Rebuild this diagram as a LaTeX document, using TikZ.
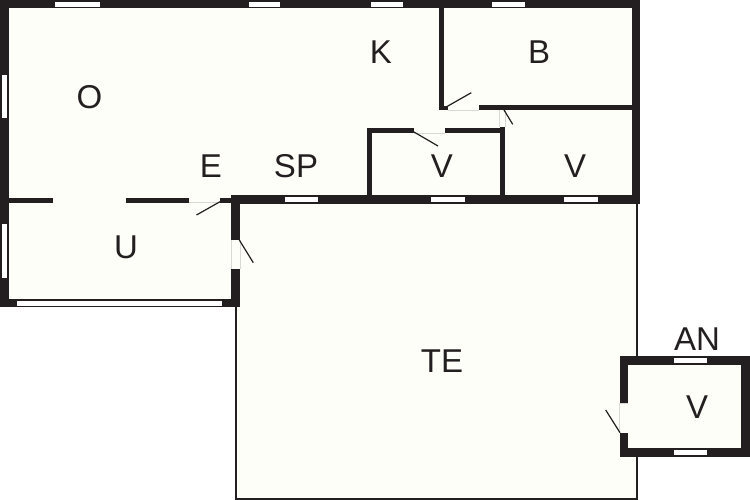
\documentclass[tikz,border=0pt]{standalone}
\usepackage{fontspec}
\setmainfont{Liberation Sans}
\definecolor{wallc}{HTML}{231F20}
\definecolor{floorc}{HTML}{FEFEF8}
\definecolor{sillc}{HTML}{D8D8D4}
\newcommand{\wall}[4]{\fill[wallc] (#1,#2) rectangle (#3,#4);}
\newcommand{\win}[4]{\fill[white] (#1,#2) rectangle (#3,#4);}
\tikzset{
  lab/.style={font=\fontsize{33}{33}\selectfont, text=wallc, inner sep=0pt, text height=23pt, text depth=0pt, anchor=center},
  leaf/.style={draw=wallc, line width=1.2pt},
  sill/.style={draw=sillc, line width=0.7pt}
}
\begin{document}
\begin{tikzpicture}[x=1pt,y=-1pt]
\useasboundingbox (0,0) rectangle (750,500);
\fill[white] (0,0) rectangle (750,500);
% floors
\fill[floorc] (0,0) rectangle (640,204);
\fill[floorc] (0,204) rectangle (240,307);
\fill[floorc] (235,204) rectangle (637,499);
\fill[floorc] (620,356) rectangle (750,457);
% terrace lines
\wall{235}{300}{237}{499.5}
\wall{235}{497.5}{637.5}{499.5}
\wall{635.5}{204}{637.5}{357}
\wall{635.5}{456}{637.5}{499.5}
% outer walls, main
\wall{0}{0}{640}{8.5}
\wall{0}{0}{9}{307}
\wall{632}{0}{640}{204}
\wall{231}{195.5}{640}{204}
\wall{231}{195.5}{240}{240}
\wall{231}{269}{240}{307}
\wall{0}{299}{240}{307}
% interior walls
\wall{9}{197.5}{53}{202.5}
\wall{126}{197.5}{189}{202.5}
\wall{220}{197.5}{231}{202.5}
\wall{439.3}{8}{444.3}{110.5}
\wall{439.3}{106}{448}{110.5}
\wall{478.5}{105.5}{632}{110.5}
\wall{366.5}{128.5}{414}{133.5}
\wall{445}{128.5}{505}{133.5}
\wall{366.5}{128.5}{371.5}{196}
\wall{499.5}{127.3}{505}{196}
% annex
\wall{619.5}{356}{750}{365}
\wall{619.5}{448.3}{750}{457.3}
\wall{741}{356}{750}{457.3}
\wall{619.5}{356}{628.3}{403.3}
\wall{619.5}{432.7}{628.3}{457.3}
% windows
\win{55}{2}{100}{6.7}
\win{249}{2}{280}{6.7}
\win{370.5}{2}{403.3}{6.7}
\win{492.3}{2}{525}{6.7}
\win{2}{75}{7.3}{118}
\win{2}{224.3}{7.3}{278.3}
\win{17}{300.8}{222}{305.6}
\win{285.3}{197.3}{318}{202.3}
\win{431}{197.3}{465}{202.3}
\win{564.3}{197.3}{597.7}{202.3}
\win{674}{358.3}{707.3}{363.3}
\win{674}{450}{707.3}{455}
% door sills
\draw[sill] (189,202.5) -- (220,202.5);
\draw[sill] (231,240) -- (231,269) (240,240) -- (240,269);
\draw[sill] (448,110.5) -- (478.5,110.5);
\draw[sill] (414,133.5) -- (445,133.5);
\draw[sill] (499.5,110.5) -- (499.5,127.3) (505,110.5) -- (505,127.3);
\draw[sill] (619.5,403.3) -- (628.3,403.3) (619.5,432.7) -- (619.5,403.3);
% door leaves
\draw[leaf] (220,201.7) -- (196.5,215);
\draw[leaf] (239.3,240) -- (253.3,262.7);
\draw[leaf] (446.7,106.7) -- (471.3,92.7);
\draw[leaf] (504,110) -- (512.7,124.3);
\draw[leaf] (414,132) -- (438,146);
\draw[leaf] (620,432.7) -- (605.7,410);
% labels
\node[lab] (o) at (89.5,97) {O};
\node[lab] (k) at (381,52) {K};
\node[lab] (b) at (539,52) {B};
\node[lab] (e) at (211,166) {E};
\node[lab] (sp) at (296,166) {SP};
\node[lab] (v1) at (442,166) {V};
\node[lab] (v2) at (575,166) {V};
\node[lab] (u) at (126,247) {U};
\node[lab] (te) at (442,361) {TE};
\node[lab] (an) at (697,339) {AN};
\node[lab] (v3) at (697,407) {V};
\end{tikzpicture}
\end{document}
